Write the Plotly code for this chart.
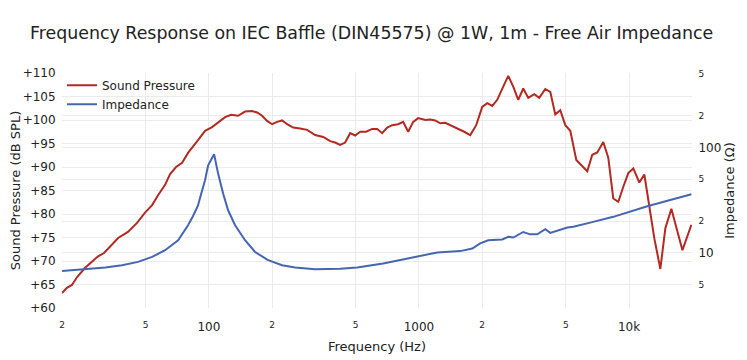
import plotly.graph_objects as go

spl_freq = [20, 21.1, 22.3, 23.6, 25.7, 27.8, 29.7, 31.7, 33.9, 37.0, 41.2, 45.5, 49.7, 53.7, 57.3,
            61.9, 65.4, 69.8, 74.6, 79.6, 88.8, 95.9, 103.6, 110.7, 119.5, 127.6, 137.8, 148.7,
            160.6, 169.7, 179.3, 189.3, 200, 211.2, 223.2, 235.8, 251.8, 271.9, 293.6, 320.6,
            350.1, 378.0, 399.0, 421.5, 445.3, 470.5, 497.0, 525, 560.6, 598.8, 632.5, 668.2,
            705.9, 745.6, 796.2, 841.1, 888.6, 938.7, 991.7, 1071, 1131, 1195, 1262, 1334, 1440,
            1538, 1642, 1754, 1873, 2000, 2113, 2232, 2358, 2518, 2660, 2810, 2969, 3136, 3313,
            3538, 3738, 3991, 4217, 4455, 4706, 4971, 5252, 5609, 5990, 6325, 6682, 7059, 7540,
            7962, 8411, 8886, 9388, 9917, 10477, 11188, 11820, 12487, 13192, 14088, 14883, 15893,
            17950, 19800]
spl_db = [63.2, 64.3, 64.9, 66.6, 68.5, 69.8, 71.0, 71.7, 73.0, 74.9, 76.2, 78.1, 80.3, 81.9, 84.0,
          86.2, 88.5, 90.0, 90.9, 93.0, 95.7, 97.7, 98.5, 99.4, 100.6, 101.1, 100.9, 101.8,
          101.9, 101.6, 100.9, 99.8, 99.1, 99.6, 99.9, 99.1, 98.4, 98.2, 97.9, 96.8,
          96.4, 95.5, 95.2, 94.7, 95.2, 97.2, 96.7, 97.5, 97.5, 98.1, 98.1, 97.2,
          98.4, 98.9, 99.1, 99.6, 97.5, 99.6, 100.4, 100.0, 100.1, 99.9, 99.3, 99.4, 98.7,
          98.2, 97.5, 96.8, 98.9, 102.8, 103.6, 103.0, 104.3, 107.1, 109.4, 107.1, 104.3, 106.7, 104.7,
          105.5, 104.7, 106.6, 106.0, 101.2, 102.1, 98.9, 97.7, 91.5, 90.1, 89.1, 92.6, 93.1, 95.3,
          92.0, 83.3, 82.6, 85.8, 88.7, 89.7, 86.7, 88.4, 81.9, 74.8, 68.3, 77.0, 81.1,
          72.3, 77.7]

imp_freq = [20, 26.3, 32.1, 38.6, 46.0, 53.7, 61.9, 71.4, 79.6, 84.1, 88.8, 91.8, 95.9, 99.2, 105.9,
            110.7, 116.9, 123.5, 133.3, 148.7, 166, 191.4, 223.2, 257.4, 320.6, 421.5, 508.1,
            675.6, 841, 1014, 1221, 1571, 1793, 1956, 2136, 2491, 2660, 2810, 3136, 3386, 3656,
            3991, 4217, 5083, 5425, 6536, 8411, 12210, 19800]
imp_ohm = [6.75, 7.08, 7.26, 7.64, 8.22, 9.16, 10.6, 13.2, 18.3, 22.4, 28.2, 36.1, 49.0, 67.9, 86.3,
           56.6, 36.6, 25.4, 18.3, 13.2, 10.2, 8.53, 7.64, 7.26, 7.00, 7.08, 7.26,
           7.93, 8.71, 9.30, 10.1, 10.4, 11.0, 12.3, 13.2, 13.4, 14.2, 14.0, 15.8, 15.0, 15.0,
           16.8, 15.5, 17.4, 17.7, 19.4, 22.0, 27.7, 36.1]

FONT = "DejaVu Sans"

fig = go.Figure()
fig.add_trace(go.Scatter(x=spl_freq, y=spl_db, name="Sound Pressure", mode="lines",
                         line=dict(color="#B22A22", width=2)))
fig.add_trace(go.Scatter(x=imp_freq, y=imp_ohm, name="Impedance", mode="lines", yaxis="y2",
                         line=dict(color="#4466B2", width=2)))

# the page body adds an 8px offset; the figure is sized to fit the 747x360 window
fig.update_layout(
    width=739, height=352,
    margin=dict(l=54, r=55, t=65, b=52),
    paper_bgcolor="white", plot_bgcolor="white",
    font=dict(family=FONT, color="#222", size=12),
    title=dict(text="Frequency Response on IEC Baffle (DIN45575) @ 1W, 1m - Free Air Impedance",
               x=0.492, xanchor="center", y=0.929, yanchor="middle",
               font=dict(family=FONT, size=17.4, color="#222")),
    showlegend=True,
    legend=dict(x=0.0, y=1.01, xanchor="left", yanchor="top", bgcolor="rgba(255,255,255,0)",
                font=dict(size=12), tracegroupgap=0),
    xaxis=dict(type="log", range=[1.30103, 4.2995], dtick="D2", showgrid=True,
               gridcolor="#ebebeb", zeroline=False, showline=False, automargin=False,
               ticks="outside", ticklen=8, tickcolor="rgba(0,0,0,0)",
               title=dict(text="Frequency (Hz)", font=dict(size=13), standoff=8),
               tickfont=dict(size=12)),
    yaxis=dict(range=[60, 110], dtick=5, tickprefix="+", showgrid=True, gridcolor="#ebebeb",
               zeroline=False, showline=False, automargin=False,
               ticks="outside", ticklen=3, tickcolor="rgba(0,0,0,0)",
               title=dict(text="Sound Pressure (dB SPL)", font=dict(size=13), standoff=2),
               tickfont=dict(size=12)),
    yaxis2=dict(type="log", range=[0.477, 2.708], dtick="D2", overlaying="y", side="right",
                showgrid=True, gridcolor="#ebebeb", zeroline=False, showline=False, automargin=False,
                ticks="outside", ticklen=3, tickcolor="rgba(0,0,0,0)",
                title=dict(text="Impedance (Ω)", font=dict(size=13), standoff=4),
                tickfont=dict(size=12)),
)

fig.write_html("out.html")
